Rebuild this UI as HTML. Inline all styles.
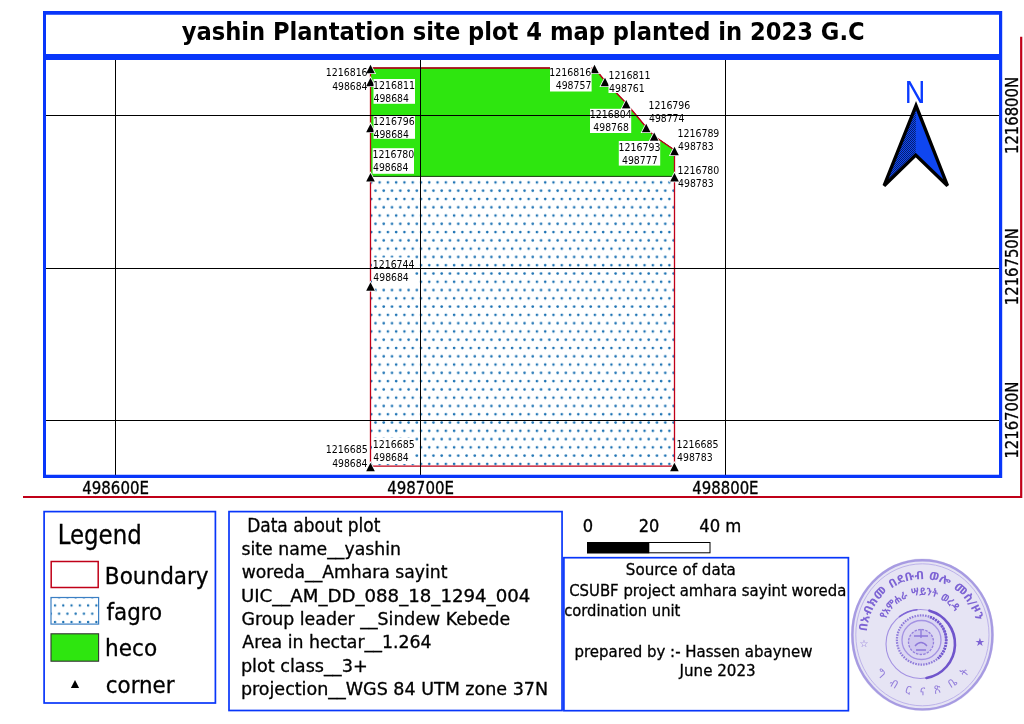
<!DOCTYPE html>
<html lang="en"><head><meta charset="utf-8">
<title>yashin Plantation site plot 4 map planted in 2023 G.C</title>
<style>
html,body{margin:0;padding:0;background:#fff;}
svg{display:block;}
text{font-family:"DejaVu Sans Condensed", "DejaVu Sans", "Liberation Sans", sans-serif;fill:#000;}
.g,.lt,.li,.d,.s,.sb{stroke:#000;stroke-width:0.3px;}
.t{font-weight:bold;font-size:25px;}
.g{font-size:17px;}
.c{font-size:10.5px;}
.lt{font-size:25.7px;}
.li{font-size:23.5px;}
.d{font-size:18px;}
.s{font-size:16.5px;}
.sb{font-size:17.3px;}
.d1{font-size:19.3px;}
.n{font-family:"Liberation Sans",sans-serif;font-size:30.6px;fill:#0b3bff;}
.am{font-family:"DejaVu Sans","Noto Sans Ethiopic","Abyssinica SIL",sans-serif;fill:#7d63d4;}
</style></head><body>
<svg width="1024" height="724" viewBox="0 0 1024 724">
<defs>
<pattern id="dots" patternUnits="userSpaceOnUse" x="377.60" y="180.40" width="8.28" height="16.56">
<circle cx="2" cy="2" r="1.3" fill="#1c72b3"/>
<circle cx="-2.14" cy="10.28" r="1.3" fill="#1c72b3"/>
<circle cx="6.14" cy="10.28" r="1.3" fill="#1c72b3"/>
</pattern>
<pattern id="dots2" patternUnits="userSpaceOnUse" x="53.00" y="603.50" width="8.28" height="16.56">
<circle cx="2" cy="2" r="1.2" fill="#1c72b3"/>
<circle cx="-2.14" cy="10.28" r="1.2" fill="#1c72b3"/>
<circle cx="6.14" cy="10.28" r="1.2" fill="#1c72b3"/>
</pattern>
<pattern id="shade" patternUnits="userSpaceOnUse" width="2" height="2"><rect width="1" height="1" fill="#000" fill-opacity="0.55"/><rect x="1" y="1" width="1" height="1" fill="#000" fill-opacity="0.55"/></pattern>
<clipPath id="mapclip"><rect x="46" y="60" width="953" height="415"/></clipPath>
<filter id="soft" x="-5%" y="-5%" width="110%" height="110%"><feGaussianBlur stdDeviation="0.45"/></filter>
</defs>
<rect width="1024" height="724" fill="#fff"/>
<path d="M23 497 H1021.2 V36.8" fill="none" stroke="#c00018" stroke-width="2.2"/>
<g clip-path="url(#mapclip)">
<rect x="370.5" y="150" width="304" height="316.2" fill="#fff"/>
<rect x="370.5" y="150" width="304" height="316.2" fill="url(#dots)"/>
<polygon points="370.5,68 594.5,68 605,81 626,103 646,127 654,136 674.5,150 674.5,176.4 370.5,176.4" fill="#2ee60f" stroke="#0c2606" stroke-width="0.9"/>
<polygon points="370.5,68 594.5,68 605,81 626,103 646,127 654,136 674.5,150 674.5,466.2 370.5,466.2" fill="none" stroke="#c00018" stroke-width="1.3"/>
<polygon points="370.5,64.8 374.8,73.2 366.2,73.2" fill="#fff" stroke="#fff" stroke-width="1.6" stroke-linejoin="miter"/><polygon points="370.5,64.8 374.8,73.2 366.2,73.2" fill="#000"/>
<polygon points="370.5,77.8 374.8,86.2 366.2,86.2" fill="#fff" stroke="#fff" stroke-width="1.6" stroke-linejoin="miter"/><polygon points="370.5,77.8 374.8,86.2 366.2,86.2" fill="#000"/>
<polygon points="370.5,123.8 374.8,132.2 366.2,132.2" fill="#fff" stroke="#fff" stroke-width="1.6" stroke-linejoin="miter"/><polygon points="370.5,123.8 374.8,132.2 366.2,132.2" fill="#000"/>
<polygon points="370.5,173.1 374.8,181.5 366.2,181.5" fill="#fff" stroke="#fff" stroke-width="1.6" stroke-linejoin="miter"/><polygon points="370.5,173.1 374.8,181.5 366.2,181.5" fill="#000"/>
<polygon points="370.5,282.3 374.8,290.7 366.2,290.7" fill="#fff" stroke="#fff" stroke-width="1.6" stroke-linejoin="miter"/><polygon points="370.5,282.3 374.8,290.7 366.2,290.7" fill="#000"/>
<polygon points="370.5,462.8 374.8,471.2 366.2,471.2" fill="#fff" stroke="#fff" stroke-width="1.6" stroke-linejoin="miter"/><polygon points="370.5,462.8 374.8,471.2 366.2,471.2" fill="#000"/>
<polygon points="594.5,64.8 598.8,73.2 590.2,73.2" fill="#fff" stroke="#fff" stroke-width="1.6" stroke-linejoin="miter"/><polygon points="594.5,64.8 598.8,73.2 590.2,73.2" fill="#000"/>
<polygon points="605,77.8 609.3,86.2 600.7,86.2" fill="#fff" stroke="#fff" stroke-width="1.6" stroke-linejoin="miter"/><polygon points="605,77.8 609.3,86.2 600.7,86.2" fill="#000"/>
<polygon points="626.2,100 630.5,108.4 621.9,108.4" fill="#fff" stroke="#fff" stroke-width="1.6" stroke-linejoin="miter"/><polygon points="626.2,100 630.5,108.4 621.9,108.4" fill="#000"/>
<polygon points="646.2,123.8 650.5,132.2 641.9,132.2" fill="#fff" stroke="#fff" stroke-width="1.6" stroke-linejoin="miter"/><polygon points="646.2,123.8 650.5,132.2 641.9,132.2" fill="#000"/>
<polygon points="654.2,132.4 658.5,140.8 649.9,140.8" fill="#fff" stroke="#fff" stroke-width="1.6" stroke-linejoin="miter"/><polygon points="654.2,132.4 658.5,140.8 649.9,140.8" fill="#000"/>
<polygon points="674.5,146.8 678.8,155.2 670.2,155.2" fill="#fff" stroke="#fff" stroke-width="1.6" stroke-linejoin="miter"/><polygon points="674.5,146.8 678.8,155.2 670.2,155.2" fill="#000"/>
<polygon points="674.5,173.1 678.8,181.5 670.2,181.5" fill="#fff" stroke="#fff" stroke-width="1.6" stroke-linejoin="miter"/><polygon points="674.5,173.1 678.8,181.5 670.2,181.5" fill="#000"/>
<polygon points="674.4,462.8 678.7,471.2 670.1,471.2" fill="#fff" stroke="#fff" stroke-width="1.6" stroke-linejoin="miter"/><polygon points="674.4,462.8 678.7,471.2 670.1,471.2" fill="#000"/>
<text class="c" x="325.77" y="75.6" textLength="41.82" lengthAdjust="spacingAndGlyphs">1216816</text><text class="c" x="332.15" y="89.6" textLength="35.37" lengthAdjust="spacingAndGlyphs">498684</text>
<rect x="373.5" y="79" width="41.5" height="24.8" fill="#fff"/><text class="c" x="372.96" y="88.8" textLength="42.10" lengthAdjust="spacingAndGlyphs">1216811</text><text class="c" x="373.55" y="101.6" textLength="35.37" lengthAdjust="spacingAndGlyphs">498684</text>
<rect x="373.5" y="115.5" width="41.5" height="23.3" fill="#fff"/><text class="c" x="372.97" y="124.6" textLength="41.82" lengthAdjust="spacingAndGlyphs">1216796</text><text class="c" x="373.55" y="137.5" textLength="35.37" lengthAdjust="spacingAndGlyphs">498684</text>
<rect x="372.6" y="148.2" width="41.4" height="25.6" fill="#fff"/><text class="c" x="372.47" y="158.3" textLength="41.85" lengthAdjust="spacingAndGlyphs">1216780</text><text class="c" x="373.05" y="171.3" textLength="35.37" lengthAdjust="spacingAndGlyphs">498684</text>
<rect x="550" y="66" width="41.6" height="25.5" fill="#fff"/><text class="c" x="549.37" y="76.2" textLength="41.82" lengthAdjust="spacingAndGlyphs">1216816</text><text class="c" x="555.74" y="88.8" textLength="35.65" lengthAdjust="spacingAndGlyphs">498757</text>
<rect x="608.5" y="69" width="42.5" height="24" fill="#fff"/><text class="c" x="608.46" y="78.8" textLength="42.10" lengthAdjust="spacingAndGlyphs">1216811</text><text class="c" x="609.04" y="91.6" textLength="35.72" lengthAdjust="spacingAndGlyphs">498761</text>
<rect x="590" y="108.8" width="41.2" height="24.2" fill="#fff"/><text class="c" x="589.87" y="118" textLength="41.75" lengthAdjust="spacingAndGlyphs">1216804</text><text class="c" x="593.35" y="131.2" textLength="35.48" lengthAdjust="spacingAndGlyphs">498768</text>
<text class="c" x="648.47" y="108.8" textLength="41.82" lengthAdjust="spacingAndGlyphs">1216796</text><text class="c" x="649.05" y="122" textLength="35.37" lengthAdjust="spacingAndGlyphs">498774</text>
<text class="c" x="677.47" y="137" textLength="41.89" lengthAdjust="spacingAndGlyphs">1216789</text><text class="c" x="678.04" y="150.1" textLength="35.60" lengthAdjust="spacingAndGlyphs">498783</text>
<rect x="618.8" y="141" width="41.4" height="24.6" fill="#fff"/><text class="c" x="618.47" y="150.5" textLength="41.99" lengthAdjust="spacingAndGlyphs">1216793</text><text class="c" x="621.94" y="163.7" textLength="35.65" lengthAdjust="spacingAndGlyphs">498777</text>
<text class="c" x="677.47" y="174" textLength="41.85" lengthAdjust="spacingAndGlyphs">1216780</text><text class="c" x="678.04" y="187.1" textLength="35.60" lengthAdjust="spacingAndGlyphs">498783</text>
<rect x="372" y="257.5" width="43" height="26.5" fill="#fff"/><text class="c" x="372.77" y="267.6" textLength="41.75" lengthAdjust="spacingAndGlyphs">1216744</text><text class="c" x="373.35" y="281" textLength="35.37" lengthAdjust="spacingAndGlyphs">498684</text>
<text class="c" x="325.76" y="453" textLength="42.06" lengthAdjust="spacingAndGlyphs">1216685</text><text class="c" x="332.15" y="467" textLength="35.37" lengthAdjust="spacingAndGlyphs">498684</text>
<rect x="372" y="438" width="43" height="26" fill="#fff"/><text class="c" x="372.76" y="448" textLength="42.06" lengthAdjust="spacingAndGlyphs">1216685</text><text class="c" x="373.35" y="461.2" textLength="35.37" lengthAdjust="spacingAndGlyphs">498684</text>
<text class="c" x="676.46" y="448" textLength="42.06" lengthAdjust="spacingAndGlyphs">1216685</text><text class="c" x="677.04" y="461.1" textLength="35.60" lengthAdjust="spacingAndGlyphs">498783</text>
<line x1="115.5" y1="57" x2="115.5" y2="476" stroke="#000" stroke-width="1"/>
<line x1="420.5" y1="57" x2="420.5" y2="476" stroke="#000" stroke-width="1"/>
<line x1="725.5" y1="57" x2="725.5" y2="476" stroke="#000" stroke-width="1"/>
<line x1="45" y1="115.5" x2="1000" y2="115.5" stroke="#000" stroke-width="1"/>
<line x1="45" y1="268.5" x2="1000" y2="268.5" stroke="#000" stroke-width="1"/>
<line x1="45" y1="420.5" x2="1000" y2="420.5" stroke="#000" stroke-width="1"/>
</g>
<polygon points="916,105.6 884.1,185.7 915.7,155.1 947.5,185.7" fill="#0f46f0"/>
<polygon points="916,105.6 884.1,185.7 915.7,155.1" fill="url(#shade)"/>
<polygon points="916,105.6 884.1,185.7 915.7,155.1 947.5,185.7" fill="none" stroke="#000" stroke-width="3.3" stroke-linejoin="miter" stroke-miterlimit="4"/>
<text class="n" x="904.87" y="102.9" textLength="20.56" lengthAdjust="spacingAndGlyphs">N</text>
<path fill-rule="evenodd" fill="#0836fa" d="M43 11 H1002.2 V478 H43 Z M46 14.8 V54.1 H999 V14.8 Z M46 60 V474.7 H999 V60 Z"/>
<text class="t" x="181.73" y="40" textLength="682.91" lengthAdjust="spacingAndGlyphs">yashin Plantation site plot 4 map planted in 2023 G.C</text>
<text class="g" x="82.27" y="493.8" textLength="66.68" lengthAdjust="spacingAndGlyphs">498600E</text>
<text class="g" x="387.27" y="493.8" textLength="66.68" lengthAdjust="spacingAndGlyphs">498700E</text>
<text class="g" x="692.27" y="493.8" textLength="66.27" lengthAdjust="spacingAndGlyphs">498800E</text>
<text class="g" x="-1.62" y="0" textLength="77.07" lengthAdjust="spacingAndGlyphs" transform="translate(1018.4 152.4) rotate(-90)">1216800N</text>
<text class="g" x="-1.62" y="0" textLength="77.07" lengthAdjust="spacingAndGlyphs" transform="translate(1018.4 303.6) rotate(-90)">1216750N</text>
<text class="g" x="-1.62" y="0" textLength="77.07" lengthAdjust="spacingAndGlyphs" transform="translate(1018.4 457) rotate(-90)">1216700N</text>
<rect x="44.1" y="511.6" width="171.3" height="191.4" fill="#fff" stroke="#0836fa" stroke-width="1.7"/>
<text class="lt" x="57.77" y="543.8" textLength="83.89" lengthAdjust="spacingAndGlyphs">Legend</text>
<rect x="51.2" y="561.5" width="47" height="26" fill="#fff" stroke="#c00018" stroke-width="1.5"/>
<text class="li" x="104.88" y="583.6" textLength="103.75" lengthAdjust="spacingAndGlyphs">Boundary</text>
<rect x="51" y="597.5" width="47.6" height="26.6" fill="#fff"/>
<rect x="51" y="597.5" width="47.6" height="26.6" fill="url(#dots2)" stroke="#3b7fc4" stroke-width="1.2"/>
<text class="li" x="106.52" y="619.8" textLength="55.64" lengthAdjust="spacingAndGlyphs">fagro</text>
<rect x="51" y="633.8" width="47.6" height="27.4" fill="#2ee60f" stroke="#333" stroke-width="1.1"/>
<text class="li" x="105.04" y="655.9" textLength="52.13" lengthAdjust="spacingAndGlyphs">heco</text>
<polygon points="75,680.1 79.1,688 70.9,688" fill="#000"/>
<text class="li" x="105.82" y="692.5" textLength="68.66" lengthAdjust="spacingAndGlyphs">corner</text>
<rect x="229" y="511.6" width="333.05" height="198.9" fill="#fff" stroke="#0836fa" stroke-width="1.7"/>
<text class="d d1" x="247.13" y="531.8" textLength="133.27" lengthAdjust="spacingAndGlyphs">Data about plot</text>
<text class="d" x="241.56" y="555" textLength="159.40" lengthAdjust="spacingAndGlyphs">site name__yashin</text>
<text class="d" x="241.78" y="578.3" textLength="205.62" lengthAdjust="spacingAndGlyphs">woreda__Amhara sayint</text>
<text class="d" x="240.92" y="601.7" textLength="289.39" lengthAdjust="spacingAndGlyphs">UIC__AM_DD_088_18_1294_004</text>
<text class="d" x="241.53" y="625" textLength="268.69" lengthAdjust="spacingAndGlyphs">Group leader __Sindew Kebede</text>
<text class="d" x="242.37" y="648.3" textLength="189.10" lengthAdjust="spacingAndGlyphs">Area in hectar__1.264</text>
<text class="d" x="240.90" y="672" textLength="126.76" lengthAdjust="spacingAndGlyphs">plot class__3+</text>
<text class="d" x="240.92" y="695.2" textLength="307.09" lengthAdjust="spacingAndGlyphs">projection__WGS 84 UTM zone 37N</text>
<text class="sb" x="582.72" y="531.8" textLength="10.36" lengthAdjust="spacingAndGlyphs">0</text>
<text class="sb" x="638.82" y="531.8" textLength="20.55" lengthAdjust="spacingAndGlyphs">20</text>
<text class="sb" x="699.20" y="531.8" textLength="42.20" lengthAdjust="spacingAndGlyphs">40 m</text>
<rect x="587.5" y="542.5" width="122.5" height="10.3" fill="#fff" stroke="#000" stroke-width="1"/>
<rect x="587" y="542" width="62.3" height="11.3" fill="#000"/>
<rect x="563.9" y="557.7" width="284.5" height="153" fill="#fff" stroke="#0836fa" stroke-width="1.7"/>
<text class="s" x="625.80" y="575" textLength="110.06" lengthAdjust="spacingAndGlyphs">Source of data</text>
<text class="s" x="569.16" y="595.7" textLength="277.18" lengthAdjust="spacingAndGlyphs">CSUBF project amhara sayint woreda</text>
<text class="s" x="564.19" y="616.2" textLength="116.16" lengthAdjust="spacingAndGlyphs">cordination unit</text>
<text class="s" x="574.45" y="656.8" textLength="238.18" lengthAdjust="spacingAndGlyphs">prepared by :- Hassen abaynew</text>
<text class="s" x="679.57" y="676.3" textLength="76.13" lengthAdjust="spacingAndGlyphs">June 2023</text>
<g id="stamp" filter="url(#soft)">
<ellipse cx="922.4" cy="634.8" rx="71.6" ry="76.2" fill="#e6e4f4"/>
<ellipse cx="922.4" cy="634.8" rx="70" ry="74.6" fill="none" stroke="#a79be2" stroke-width="2.4"/>
<ellipse cx="922.4" cy="634.8" rx="66.6" ry="71" fill="none" stroke="#bdb3ea" stroke-width="1"/>
<circle cx="920.5" cy="644" r="34.5" fill="none" stroke="#a391e2" stroke-width="1.1"/>
<path d="M 929.4 610.7 A 34.5 34.5 0 0 1 926.5 678" fill="none" stroke="#6f55cc" stroke-width="2.6" stroke-linecap="round"/>
<path d="M 899.5 616.6 A 34.5 34.5 0 0 1 917 609.7" fill="none" stroke="#7f66d6" stroke-width="1.6" stroke-linecap="round"/>
<circle cx="921.5" cy="640" r="24.6" fill="#dcd7f2" stroke="#8f7bda" stroke-width="2.2" stroke-dasharray="1.6 1.1"/>
<path d="M 930 617 A 24.6 24.6 0 0 1 938 658.5" fill="none" stroke="#7259cf" stroke-width="2.8" stroke-dasharray="2 0.9"/>
<circle cx="921.5" cy="640" r="19.5" fill="none" stroke="#a493e3" stroke-width="1.3"/>
<circle cx="921" cy="642" r="12.5" fill="#cfc7ef" stroke="#937fdc" stroke-width="1.3" stroke-dasharray="2.5 1.2"/>
<path d="M914 636 h14 M921 629 v9 M915 646 q6 -7 12 0 M916 650 h10" fill="none" stroke="#8d78da" stroke-width="1.3"/>
<path id="arc1" d="M 867.0 631.5 A 55.5 55.5 0 0 1 976.4 621.8" fill="none"/>
<path id="arc2" d="M 885.8 619.2 A 39.8 39.8 0 0 1 955.4 612.5" fill="none"/>
<path id="arc3" d="M 875.4 672.9 A 60.5 60.5 0 0 0 970.7 671.2" fill="none"/>
<text class="am" font-size="11.5" font-weight="bold"><textPath href="#arc1" textLength="157.0" lengthAdjust="spacingAndGlyphs">በአብክመ በደቡብ ወሎ መስ/ዞን</textPath></text>
<text class="am" font-size="10.5" font-weight="bold"><textPath href="#arc2" textLength="84.4" lengthAdjust="spacingAndGlyphs">የአምሐራ ሣይንት ወረዳ</textPath></text>
<text class="am" font-size="11" fill-opacity="0.8"><textPath href="#arc3" textLength="107.8" lengthAdjust="spacing">ግ ብ ር ና ጽ ቤ ት</textPath></text>
<text class="am" x="864" y="647.2" font-size="10" text-anchor="middle" fill-opacity="0.85">&#9734;</text>
<text class="am" x="980" y="645.6" font-size="11.5" text-anchor="middle">&#9733;</text>
</g>
</svg>
</body></html>
